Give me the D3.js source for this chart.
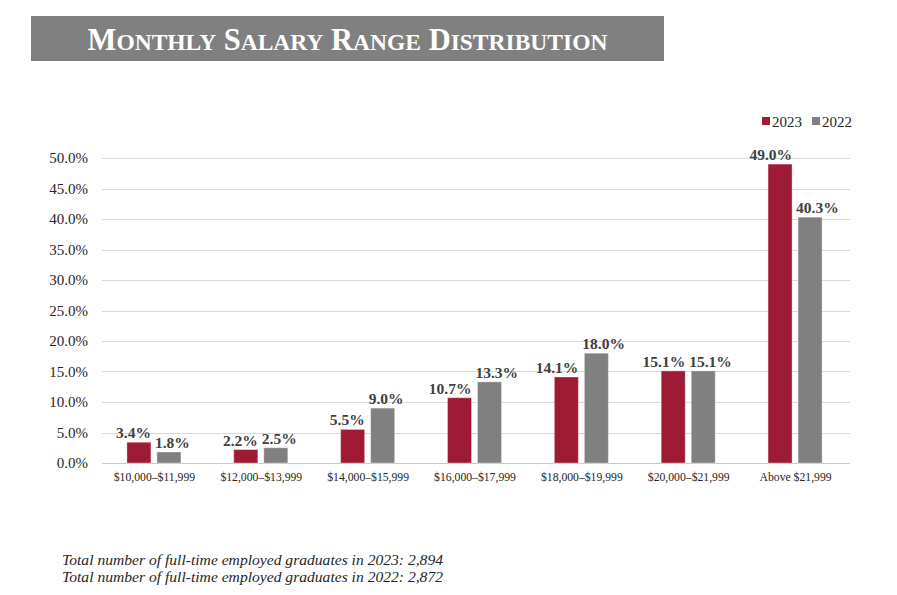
<!DOCTYPE html>
<html>
<head>
<meta charset="utf-8">
<script src="https://cdn.jsdelivr.net/npm/d3@7"></script>
<style>
  html, body { margin: 0; padding: 0; background: #fff; }
  svg { display: block; }
  text { font-family: "Liberation Serif", "Times New Roman", serif; }
</style>
</head>
<body>
<svg id="chart" width="897" height="595"></svg>
<script>
const categories = ["$10,000–$11,999", "$12,000–$13,999", "$14,000–$15,999", "$16,000–$17,999", "$18,000–$19,999", "$20,000–$21,999", "Above $21,999"];
const seriesNames = ["2023", "2022"];
const values2023 = [3.4, 2.2, 5.5, 10.7, 14.1, 15.1, 49.0];
const values2022 = [1.8, 2.5, 9.0, 13.3, 18.0, 15.1, 40.3];
const yTicks = [0, 5, 10, 15, 20, 25, 30, 35, 40, 45, 50];
const colors = { "2023": "#9e1a35", "2022": "#808080" };
const titleText = "Monthly Salary Range Distribution";
const footnotes = [
  "Total number of full-time employed graduates in 2023: 2,894",
  "Total number of full-time employed graduates in 2022: 2,872"
];

const svg = d3.select("#chart");

// Title banner
svg.append("rect").attr("x", 31).attr("y", 16).attr("width", 633).attr("height", 45).attr("fill", "#808080");
const title = svg.append("text")
  .attr("x", 347.5).attr("y", 50)
  .attr("text-anchor", "middle")
  .attr("fill", "#fff")
  .attr("font-weight", "bold");
titleText.split(" ").forEach((w, i) => {
  title.append("tspan").attr("font-size", 30.5).text((i > 0 ? " " : "") + w[0].toUpperCase());
  title.append("tspan").attr("font-size", 23.5).text(w.slice(1).toUpperCase());
});

// Scales
const y = d3.scaleLinear().domain([0, 50]).range([463, 158]);
const x0 = d3.scaleBand().domain(categories).range([102, 850]).paddingInner(0).paddingOuter(0);
const x1 = d3.scaleBand().domain(seriesNames).range([0, x0.bandwidth()]).paddingInner(0.2).paddingOuter(0.88);

// Gridlines
svg.append("g").selectAll("line").data(yTicks).join("line")
  .attr("x1", 102).attr("x2", 850)
  .attr("y1", d => Math.round(y(d)) + 0.5).attr("y2", d => Math.round(y(d)) + 0.5)
  .attr("stroke", d => d === 0 ? "#c8c8c8" : "#d9d9d9").attr("stroke-width", 1);

// Y axis labels
const yAxis = d3.axisLeft(y).tickValues(yTicks).tickFormat(d => d.toFixed(1) + "%").tickSize(0).tickPadding(0);
const yg = svg.append("g").attr("transform", "translate(88,0)").call(yAxis);
yg.select(".domain").remove();
yg.selectAll("text").attr("font-size", 15).attr("fill", "#262626").attr("font-family", "Liberation Serif, serif");

// X axis labels
const xAxis = d3.axisBottom(x0).tickSize(0).tickPadding(0);
const xg = svg.append("g").attr("transform", "translate(-1,473)").call(xAxis);
xg.select(".domain").remove();
xg.selectAll("text").attr("font-size", 11.7).attr("fill", "#262626").attr("font-family", "Liberation Serif, serif");

// Data
const data = categories.map((c, i) => ({ cat: c, vals: [{ s: "2023", v: values2023[i] }, { s: "2022", v: values2022[i] }] }));
const groups = svg.append("g").selectAll("g").data(data).join("g")
  .attr("transform", d => `translate(${x0(d.cat) - 1.5},0)`);

groups.selectAll("rect").data(d => d.vals).join("rect")
  .attr("x", d => x1(d.s))
  .attr("width", x1.bandwidth())
  .attr("y", d => y(d.v))
  .attr("height", d => y(0) - y(d.v))
  .attr("fill", d => colors[d.s])
  .attr("stroke", "rgba(255,255,255,0.35)")
  .attr("stroke-width", 1);

groups.selectAll("text.lbl").data(d => d.vals).join("text")
  .attr("class", "lbl")
  .attr("x", d => d.s === "2023" ? x1(d.s) + x1.bandwidth() : x1(d.s) - 2)
  .attr("text-anchor", d => d.s === "2023" ? "end" : "start")
  .attr("y", d => y(d.v) - 4)
  .attr("font-size", 15.5)
  .attr("font-weight", "bold")
  .attr("fill", "#404040")
  .text(d => d.v.toFixed(1) + "%");

// Legend
const legend = svg.append("g");
const legendItems = [{ s: "2023", x: 762 }, { s: "2022", x: 812 }];
legendItems.forEach(it => {
  legend.append("rect").attr("x", it.x).attr("y", 117).attr("width", 8).attr("height", 8).attr("fill", colors[it.s]);
  legend.append("text").attr("x", it.x + 10).attr("y", 127).attr("font-size", 15).attr("fill", "#262626").text(it.s);
});

// Footnotes
svg.append("g").selectAll("text").data(footnotes).join("text")
  .attr("x", 62).attr("y", (d, i) => 565 + i * 17)
  .attr("font-size", 15.6).attr("font-style", "italic").attr("fill", "#262626")
  .text(d => d);
</script>
</body>
</html>
